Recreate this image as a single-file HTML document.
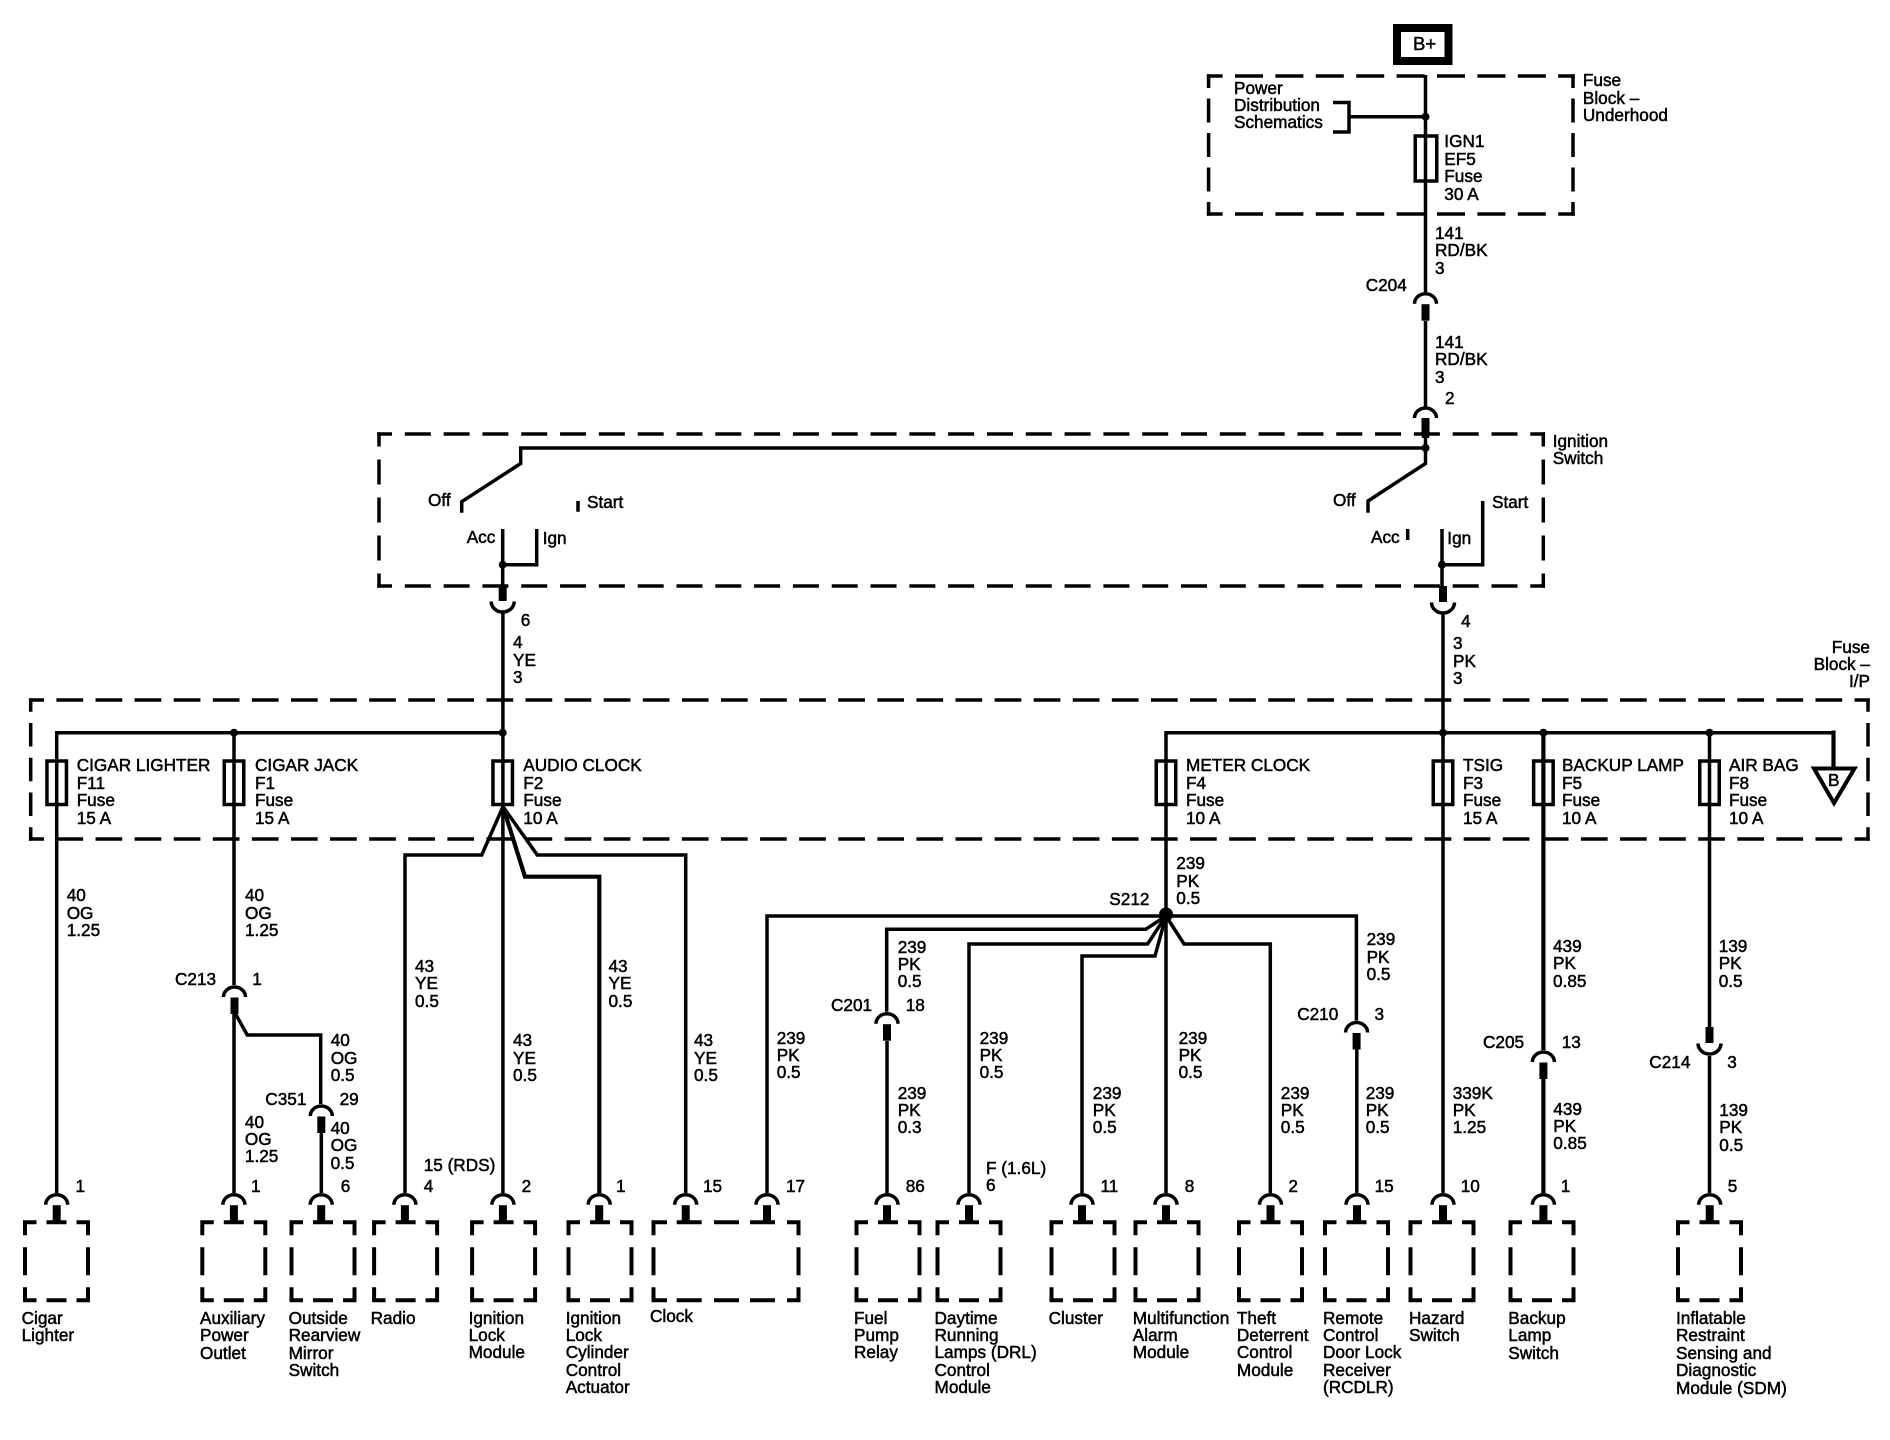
<!DOCTYPE html>
<html><head><meta charset="utf-8"><title>Ignition Power Distribution</title>
<style>
html,body{margin:0;padding:0;background:#fff}
#w{position:relative;width:1890px;height:1440px;overflow:hidden;background:#fff}
svg{position:absolute;left:0;top:0}
.t{position:absolute;font:17.2px/17.4px "Liberation Sans",Arial,sans-serif;color:#000;white-space:nowrap;-webkit-text-stroke:.5px #000}
.s{fill:none;stroke:#000;stroke-width:3.5;stroke-linejoin:miter}
.h{stroke-width:4.2}
</style></head><body><div id="w">
<svg width="1890" height="1440" viewBox="0 0 1890 1440" xmlns="http://www.w3.org/2000/svg">
<defs>
<g id="c"><path class="s" d="M-11 12A11 10 0 0 1 11 12"/><rect x="-4" y="12.5" width="8" height="16.5"/></g>
<g id="u"><rect x="-4" y="0" width="8" height="16"/><path class="s" d="M-11.5 16.5A11.5 10.5 0 0 0 11.5 16.5"/></g>
<rect id="b" class="s" style="stroke-width:4" x="0" y="0" width="63" height="78" stroke-dasharray="11.5 10 20 10 24.5 12 28 12 24.5 10 20 10 24.5 12 28 12 13"/>
<rect id="f" class="s" x="-9.75" y="0" width="19.5" height="43.5"/>
</defs>
<!-- B+ -->
<rect x="1397" y="28" width="51.5" height="33" fill="none" stroke="#000" stroke-width="8"/>
<!-- dashed boxes -->
<g class="s">
<path d="M1206.85 76H1574.75M1206.85 214H1574.75" stroke-dasharray="28 12.4" stroke-dashoffset="12.25"/>
<path d="M1208.6 74.25V215.75M1573 74.25V215.75" stroke-dasharray="24 10.5" stroke-dashoffset="10.25"/>
<path d="M377.25 434H1545.05M377.25 586H1545.05" stroke-dasharray="26 12.81" stroke-dashoffset="11.25"/>
<path d="M379 432.25V587.75M1543.3 432.25V587.75" stroke-dasharray="25 13" stroke-dashoffset="10.75"/>
<path d="M28.95 700H1869.75M28.95 839H1869.75" stroke-dasharray="26.7 12.39" stroke-dashoffset="11.6"/>
<path d="M30.7 698.25V840.75M1868 698.25V840.75" stroke-dasharray="23.5 11.25" stroke-dashoffset="10"/>
</g>
<!-- wires -->
<g class="s">
<path d="M1425.5 75V292M1425.5 321V407M1425.5 438V463.5L1368 501V512.7"/>
<path d="M1333 102.5H1349V132H1333M1349 116.7H1425.5"/>
<path d="M1425.5 448H520.7V463.5L461.7 501.7V512.7"/>
<path d="M578 501V511.7M1407.7 529V540"/>
<path d="M502.7 529V586M536.7 529V564.7H502.7M502.9 612V1193"/>
<path d="M1442 529V586M1482.7 501V564.7H1442M1443 613V1193"/>
<path d="M56.7 1193V732.7H502.7"/>
<path d="M234 732.7V985M234 1014V1193M235 1013L247.3 1035H320.7V1104M321.3 1132V1193"/>
<path d="M1166 1193V732.7H1833"/>
<path class="h" d="M1833.5 730.5V768"/>
<path d="M1709.5 732.7V1027M1709.5 1056V1193"/>
<path class="s h" d="M1543.4 732.7V1050M1543.4 1078V1193"/>
<path d="M503 806.7L481.7 855H405V1193M503 806.7L537.3 855H685.7V1193"/>
<path class="s h" d="M503 806.7L525 876.7H599.3V1193"/>
<path d="M1166 916H767V1193M1166 916H1356.4V1020.5M1166 916L1145.7 929.3H886.7V1011.7M887 1041V1193M1166 916L1147.6 944H969V1193M1166 916L1155 956H1082V1193M1166 916L1184 944H1270.3V1193M1356.8 1048V1193"/>
<path stroke-width="4" d="M1814 768.5H1854.5L1834 803Z"/>
<rect x="1415.25" y="136" width="21.5" height="45"/>
</g>
<!-- fuses -->
<use href="#f" x="56.7" y="761"/><use href="#f" x="234" y="761"/><use href="#f" x="502.7" y="761"/><use href="#f" x="1166" y="761"/><use href="#f" x="1443" y="761"/><use href="#f" x="1543.4" y="761"/><use href="#f" x="1709.5" y="761"/>
<!-- junctions -->
<circle cx="1425.5" cy="116.7" r="4"/><circle cx="1425.5" cy="448" r="4"/><circle cx="502.7" cy="564.7" r="4"/><circle cx="1442" cy="564.7" r="4"/><circle cx="234" cy="732.7" r="4"/><circle cx="502.7" cy="732.7" r="4"/><circle cx="1443" cy="732.7" r="4"/><circle cx="1543.4" cy="732.7" r="4"/><circle cx="1709.5" cy="732.7" r="4"/><circle cx="1166" cy="914.5" r="7"/>
<!-- connectors -->
<use href="#c" x="1425.5" y="291.7"/><use href="#c" x="1425.5" y="406"/>
<use href="#c" x="234.5" y="985"/><use href="#c" x="321.3" y="1104"/><use href="#c" x="887" y="1011.7"/><use href="#c" x="1356.6" y="1020.5"/><use href="#c" x="1543.4" y="1050"/>
<use href="#u" x="502.7" y="585"/><use href="#u" x="1443" y="586"/><use href="#u" x="1709.5" y="1027"/>
<rect x="1421.8" y="418" width="7.5" height="20"/>
<use href="#c" x="56.7" y="1192.7"/><use href="#c" x="233.9" y="1192.7"/><use href="#c" x="321.2" y="1192.7"/><use href="#c" x="404.9" y="1192.7"/><use href="#c" x="502.9" y="1192.7"/><use href="#c" x="599.2" y="1192.7"/><use href="#c" x="685.7" y="1192.7"/><use href="#c" x="767" y="1192.7"/><use href="#c" x="887" y="1192.7"/><use href="#c" x="969" y="1192.7"/><use href="#c" x="1082" y="1192.7"/><use href="#c" x="1166" y="1192.7"/><use href="#c" x="1270.5" y="1192.7"/><use href="#c" x="1357" y="1192.7"/><use href="#c" x="1443" y="1192.7"/><use href="#c" x="1543.4" y="1192.7"/><use href="#c" x="1709.7" y="1192.7"/>
<!-- component boxes -->
<g transform="translate(0 1222.3)">
<use href="#b" x="25"/><use href="#b" x="202.3"/><use href="#b" x="291.5"/><use href="#b" x="374.1"/><use href="#b" x="472.1"/><use href="#b" x="568.5"/><use href="#b" x="856.5"/><use href="#b" x="937.5"/><use href="#b" x="1051.5"/><use href="#b" x="1135.5"/><use href="#b" x="1239"/><use href="#b" x="1325"/><use href="#b" x="1410.5"/><use href="#b" x="1510.5"/><use href="#b" x="1678"/>
</g>
<path class="s" style="stroke-width:4" d="M651.5 1222.3H667M676.7 1222.3H701.7M714 1222.3H739M750 1222.3H775M787 1222.3H800.5M651.5 1300.3H667M676.7 1300.3H701.7M714 1300.3H739M750 1300.3H775M787 1300.3H800.5M653.5 1220.3V1235.3M653.5 1247.3V1275.3M653.5 1287.3V1302.3M798.5 1220.3V1235.3M798.5 1247.3V1275.3M798.5 1287.3V1302.3"/>
</svg>

<div class="t" style="left:1413px;top:35.3px;font-size:18.5px">B+</div>
<div class="t" style="left:1582.9px;top:72.3px">Fuse<br>Block –<br>Underhood</div>
<div class="t" style="left:1234px;top:79.6px">Power<br>Distribution<br>Schematics</div>
<div class="t" style="left:1444.3px;top:133.4px">IGN1<br>EF5<br>Fuse<br>30 A</div>
<div class="t" style="left:1435px;top:225px">141<br>RD/BK<br>3</div>
<div class="t" style="left:1365.7px;top:276.6px">C204</div>
<div class="t" style="left:1435px;top:334px">141<br>RD/BK<br>3</div>
<div class="t" style="left:1445px;top:390.3px">2</div>
<div class="t" style="left:1552.7px;top:432.6px">Ignition<br>Switch</div>
<div class="t" style="left:428px;top:492.3px">Off</div>
<div class="t" style="left:587px;top:494px">Start</div>
<div class="t" style="left:466.7px;top:529.3px">Acc</div>
<div class="t" style="left:542.7px;top:530.3px">Ign</div>
<div class="t" style="left:1333px;top:492.3px">Off</div>
<div class="t" style="left:1492px;top:494.3px">Start</div>
<div class="t" style="left:1371px;top:528.6px">Acc</div>
<div class="t" style="left:1447.3px;top:530.3px">Ign</div>
<div class="t" style="left:520.7px;top:612px">6</div>
<div class="t" style="left:513px;top:634.3px">4<br>YE<br>3</div>
<div class="t" style="left:1461px;top:613.3px">4</div>
<div class="t" style="left:1453px;top:635.3px">3<br>PK<br>3</div>
<div class="t" style="right:20px;top:638.6px;text-align:right">Fuse<br>Block –<br>I/P</div>
<div class="t" style="left:76.7px;top:757.3px">CIGAR LIGHTER<br>F11<br>Fuse<br>15 A</div>
<div class="t" style="left:255px;top:757.3px">CIGAR JACK<br>F1<br>Fuse<br>15 A</div>
<div class="t" style="left:523.3px;top:757.3px">AUDIO CLOCK<br>F2<br>Fuse<br>10 A</div>
<div class="t" style="left:1186px;top:757.3px">METER CLOCK<br>F4<br>Fuse<br>10 A</div>
<div class="t" style="left:1463px;top:757.3px">TSIG<br>F3<br>Fuse<br>15 A</div>
<div class="t" style="left:1562px;top:757.3px">BACKUP LAMP<br>F5<br>Fuse<br>10 A</div>
<div class="t" style="left:1729px;top:757.3px">AIR BAG<br>F8<br>Fuse<br>10 A</div>
<div class="t" style="left:1828px;top:772px">B</div>
<div class="t" style="left:66.7px;top:887.3px">40<br>OG<br>1.25</div>
<div class="t" style="left:245px;top:887.3px">40<br>OG<br>1.25</div>
<div class="t" style="left:175px;top:970.6px">C213</div>
<div class="t" style="left:252.3px;top:971.3px">1</div>
<div class="t" style="left:330.7px;top:1032.3px">40<br>OG<br>0.5</div>
<div class="t" style="left:415px;top:958px">43<br>YE<br>0.5</div>
<div class="t" style="left:513px;top:1032.3px">43<br>YE<br>0.5</div>
<div class="t" style="left:608.5px;top:958px">43<br>YE<br>0.5</div>
<div class="t" style="left:694px;top:1032.3px">43<br>YE<br>0.5</div>
<div class="t" style="left:265.3px;top:1090.6px">C351</div>
<div class="t" style="left:339.6px;top:1090.6px">29</div>
<div class="t" style="left:244.9px;top:1113.6px">40<br>OG<br>1.25</div>
<div class="t" style="left:330.6px;top:1120px">40<br>OG<br>0.5</div>
<div class="t" style="left:423.7px;top:1157.3px">15 (RDS)</div>
<div class="t" style="left:1176.3px;top:855.3px">239<br>PK<br>0.5</div>
<div class="t" style="left:1109.3px;top:890.6px">S212</div>
<div class="t" style="left:897.7px;top:938.6px">239<br>PK<br>0.5</div>
<div class="t" style="left:831px;top:997px">C201</div>
<div class="t" style="left:905.7px;top:997px">18</div>
<div class="t" style="left:776.7px;top:1029.6px">239<br>PK<br>0.5</div>
<div class="t" style="left:897.7px;top:1084.6px">239<br>PK<br>0.3</div>
<div class="t" style="left:979.6px;top:1029.6px">239<br>PK<br>0.5</div>
<div class="t" style="left:1178.6px;top:1029.6px">239<br>PK<br>0.5</div>
<div class="t" style="left:1092.8px;top:1084.6px">239<br>PK<br>0.5</div>
<div class="t" style="left:1280.8px;top:1084.6px">239<br>PK<br>0.5</div>
<div class="t" style="left:1297.2px;top:1005.6px">C210</div>
<div class="t" style="left:1374.5px;top:1006.3px">3</div>
<div class="t" style="left:1366.6px;top:931.3px">239<br>PK<br>0.5</div>
<div class="t" style="left:1365.7px;top:1084.6px">239<br>PK<br>0.5</div>
<div class="t" style="left:1452.7px;top:1084.6px">339K<br>PK<br>1.25</div>
<div class="t" style="left:1553px;top:938px">439<br>PK<br>0.85</div>
<div class="t" style="left:1718.7px;top:938px">139<br>PK<br>0.5</div>
<div class="t" style="left:1483px;top:1034.3px">C205</div>
<div class="t" style="left:1561.7px;top:1034.3px">13</div>
<div class="t" style="left:1649.3px;top:1054px">C214</div>
<div class="t" style="left:1727.3px;top:1054px">3</div>
<div class="t" style="left:1553.3px;top:1100.6px">439<br>PK<br>0.85</div>
<div class="t" style="left:1719.3px;top:1102px">139<br>PK<br>0.5</div>
<div class="t" style="left:986px;top:1159.6px">F (1.6L)<br>6</div>
<div class="t" style="left:75.5px;top:1178px">1</div>
<div class="t" style="left:251px;top:1178px">1</div>
<div class="t" style="left:340.8px;top:1178px">6</div>
<div class="t" style="left:423.7px;top:1178px">4</div>
<div class="t" style="left:521.6px;top:1178px">2</div>
<div class="t" style="left:616px;top:1178px">1</div>
<div class="t" style="left:703px;top:1178px">15</div>
<div class="t" style="left:786px;top:1178px">17</div>
<div class="t" style="left:905.7px;top:1178px">86</div>
<div class="t" style="left:1100.5px;top:1178px">11</div>
<div class="t" style="left:1184.7px;top:1178px">8</div>
<div class="t" style="left:1288.4px;top:1178px">2</div>
<div class="t" style="left:1374.6px;top:1178px">15</div>
<div class="t" style="left:1460.7px;top:1178px">10</div>
<div class="t" style="left:1560.7px;top:1178px">1</div>
<div class="t" style="left:1727.7px;top:1178px">5</div>
<div class="t" style="left:21.6px;top:1310px">Cigar<br>Lighter</div>
<div class="t" style="left:200px;top:1310px">Auxiliary<br>Power<br>Outlet</div>
<div class="t" style="left:288.6px;top:1310px">Outside<br>Rearview<br>Mirror<br>Switch</div>
<div class="t" style="left:370.6px;top:1309.5px">Radio</div>
<div class="t" style="left:468.6px;top:1309.5px">Ignition<br>Lock<br>Module</div>
<div class="t" style="left:565.7px;top:1309.5px">Ignition<br>Lock<br>Cylinder<br>Control<br>Actuator</div>
<div class="t" style="left:650px;top:1308px">Clock</div>
<div class="t" style="left:854px;top:1309.6px">Fuel<br>Pump<br>Relay</div>
<div class="t" style="left:934.5px;top:1309.6px">Daytime<br>Running<br>Lamps (DRL)<br>Control<br>Module</div>
<div class="t" style="left:1048.6px;top:1309.6px">Cluster</div>
<div class="t" style="left:1132.8px;top:1309.6px">Multifunction<br>Alarm<br>Module</div>
<div class="t" style="left:1236.9px;top:1309.6px">Theft<br>Deterrent<br>Control<br>Module</div>
<div class="t" style="left:1323px;top:1309.6px">Remote<br>Control<br>Door Lock<br>Receiver<br>(RCDLR)</div>
<div class="t" style="left:1409px;top:1310px">Hazard<br>Switch</div>
<div class="t" style="left:1508.3px;top:1310px">Backup<br>Lamp<br>Switch</div>
<div class="t" style="left:1676px;top:1310px">Inflatable<br>Restraint<br>Sensing and<br>Diagnostic<br>Module (SDM)</div>
</div></body></html>
